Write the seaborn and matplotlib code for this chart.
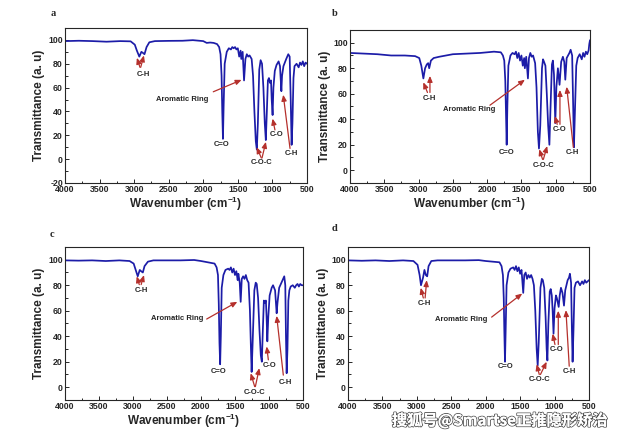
import matplotlib
matplotlib.use('Agg')
import matplotlib.pyplot as plt
import matplotlib.patheffects as pe
from matplotlib.ticker import MultipleLocator
import seaborn as sns

# ---- spectra (wavenumber cm-1, transmittance) ----
wn_a = [4000, 3800, 3600, 3400, 3200, 3050, 2990, 2960, 2925, 2895, 2870, 2850, 2820, 2780, 2700,
        2500, 2300, 2150, 2000, 1950, 1900, 1850, 1800, 1770, 1750, 1735, 1725, 1715, 1705, 1690,
        1660, 1630, 1600, 1580, 1560, 1540, 1520, 1500, 1480, 1460, 1450, 1430, 1410, 1390, 1370,
        1350, 1330, 1300, 1280, 1260, 1240, 1225, 1210, 1190, 1170, 1150, 1130, 1110, 1095, 1080,
        1065, 1050, 1035, 1020, 1010, 997, 985, 965, 940, 910, 890, 870, 860, 840, 800,
        770, 750, 735, 722, 710, 695, 680, 650, 620, 600, 580, 560, 540, 520, 500]
t_a = [99, 99.3, 99, 98.5, 99, 98.8, 96, 91, 86, 90, 89, 88, 94, 98, 99,
       99.2, 99.3, 99.8, 99, 97.5, 97.8, 97.5, 96.5, 94, 88, 70, 40, 17, 45, 80,
       90, 93, 92, 94, 93, 94, 92, 93, 86, 91, 84, 90, 66, 84, 88,
       86, 87, 84, 70, 40, 15, 8, 30, 75, 83, 80, 60, 30, 16, 40,
       66, 68, 64, 66, 50, 37, 60, 74, 79, 82, 78, 57, 70, 78, 84,
       88, 86, 50, 12, 30, 68, 78, 80, 77, 81, 79, 82, 78, 81, 80]

wn_b = [4000, 3800, 3600, 3400, 3200, 3050, 2990, 2960, 2930, 2905, 2880, 2860, 2845, 2820, 2780,
        2700, 2500, 2300, 2100, 2000, 1900, 1800, 1770, 1750, 1735, 1725, 1715, 1705, 1690, 1660,
        1630, 1600, 1580, 1560, 1540, 1520, 1500, 1480, 1460, 1450, 1430, 1405, 1390, 1370, 1350,
        1330, 1300, 1280, 1260, 1244, 1225, 1200, 1185, 1170, 1150, 1130, 1110, 1092, 1075, 1055,
        1041, 1025, 1006, 990, 968, 944, 920, 895, 875, 860, 840, 800, 782, 760, 745,
        734, 720, 700, 680, 650, 620, 600, 580, 560, 540, 520, 510, 500]
t_b = [92, 91.5, 91, 90, 90, 89.5, 88, 82, 72, 80, 83, 84, 80, 86, 88,
       89, 91, 91.5, 92, 92.5, 93, 92.5, 90, 86, 70, 45, 20, 50, 82, 90,
       92, 91, 93, 88, 92, 86, 90, 82, 88, 80, 89, 72, 88, 92, 89,
       90, 84, 65, 30, 17, 35, 80, 87, 85, 82, 60, 35, 20, 50, 83,
       86, 75, 37, 65, 80, 67, 85, 89, 85, 71, 88, 92, 94.5, 90, 50,
       18, 45, 82, 88, 91, 87, 92, 89, 93, 91, 94, 99, 102]

wn_c = [4000, 3800, 3600, 3400, 3200, 3050, 2990, 2960, 2930, 2900, 2880, 2855, 2830, 2780, 2700,
        2500, 2300, 2100, 2000, 1900, 1850, 1800, 1770, 1750, 1738, 1728, 1718, 1708, 1695, 1670,
        1640, 1600, 1580, 1560, 1540, 1520, 1500, 1480, 1460, 1450, 1430, 1416, 1400, 1380, 1360,
        1340, 1320, 1300, 1280, 1265, 1255, 1240, 1215, 1195, 1180, 1160, 1140, 1120, 1105, 1090,
        1075, 1060, 1045, 1035, 1024, 1010, 990, 960, 940, 910, 887, 875, 850, 800, 775,
        760, 750, 740, 728, 715, 700, 680, 650, 620, 600, 580, 560, 540, 520, 500]
t_c = [99.5, 99.3, 99.5, 99, 99.5, 99, 97, 92, 87, 92, 91, 90, 95, 98.5, 99.5,
       99.5, 99.5, 99.8, 99, 98, 97.5, 97, 94, 88, 65, 35, 18, 40, 78, 88,
       92, 93, 92, 94, 90, 93, 88, 91, 84, 89, 82, 67, 85, 87, 85,
       88, 84, 82, 60, 30, 12, 35, 76, 82, 81, 70, 45, 25, 20, 45,
       68, 66, 68, 55, 36, 55, 72, 78, 80, 76, 58, 66, 78, 84, 87,
       80, 40, 11, 30, 68, 76, 79, 80, 78, 80, 81, 79, 81, 80, 80]

wn_d = [4000, 3800, 3600, 3400, 3200, 3050, 2990, 2960, 2940, 2910, 2890, 2870, 2850, 2830, 2790,
        2700, 2500, 2300, 2100, 2000, 1900, 1800, 1770, 1750, 1738, 1730, 1720, 1710, 1697, 1670,
        1640, 1600, 1580, 1560, 1540, 1520, 1500, 1480, 1470, 1455, 1440, 1420, 1400, 1380, 1360,
        1340, 1320, 1300, 1280, 1260, 1245, 1230, 1205, 1185, 1170, 1150, 1130, 1115, 1104, 1090,
        1070, 1056, 1040, 1028, 1015, 1000, 980, 967, 940, 925, 907, 885, 863, 845, 810,
        790, 777, 760, 748, 738, 725, 710, 690, 660, 630, 600, 580, 560, 540, 520, 500]
t_d = [99.5, 99.2, 99.5, 99, 99.5, 99, 96, 88, 80, 86, 92, 88, 87, 95, 99,
       99.5, 99.5, 99.5, 99.7, 99, 98.5, 98, 95, 88, 70, 45, 20, 45, 80, 90,
       93, 94, 92, 95, 91, 94, 89, 92, 85, 74, 88, 90, 85, 88, 86,
       88, 85, 80, 60, 30, 17, 35, 78, 85, 84, 78, 55, 30, 21, 50,
       75, 77, 72, 60, 42, 62, 72, 70, 63, 72, 78, 74, 64, 76, 84,
       86, 89, 82, 45, 20, 45, 78, 82, 83, 80, 83, 81, 84, 82, 83, 84]

panel_names = ['a', 'b', 'c', 'd']
x_ticks = [4000, 3500, 3000, 2500, 2000, 1500, 1000, 500]

# annotation layout: (label, text pos, [(tail, tip), ...])
notes = {
    'a': [('C-H', (2872, 71), [((2915, 77), (2960, 85)), ((2905, 77), (2858, 87))]),
          ('Aromatic Ring', (2298, 50), [((1855, 56.5), (1445, 66.5))]),
          ('C=O', (1740, 12.5), []),
          ('C-O-C', (1156, -3), [((1160, 1), (1228, 10)), ((1150, 1), (1094, 14.5))]),
          ('C-O', (940, 21), [((963, 24.5), (997, 34))]),
          ('C-H', (722, 5), [((745, 9), (843, 54))])],
    'b': [('C-H', (2843, 56), [((2870, 61), (2931, 69)), ((2834, 61), (2834, 74))]),
          ('Aromatic Ring', (2260, 47.5), [((1959, 51), (1449, 71))]),
          ('C=O', (1715, 14), []),
          ('C-O-C', (1181, 4), [((1191, 8.5), (1240, 16.5)), ((1180, 8.5), (1124, 19))]),
          ('C-O', (949, 32), [((978, 36), (1012, 42.5)), ((938, 36), (938, 63))]),
          ('C-H', (753, 14), [((743, 18), (840, 65.5))])],
    'c': [('C-H', (2872, 76), [((2907, 80.5), (2945, 87)), ((2880, 80.5), (2838, 88))]),
          ('Aromatic Ring', (2348, 54), [((1916, 53.5), (1465, 67))]),
          ('C=O', (1745, 12), []),
          ('C-O-C', (1205, -4), [((1210, 0.5), (1269, 11)), ((1200, 0.5), (1142, 15))]),
          ('C-O', (985, 17), [((1009, 21.5), (1034, 32))]),
          ('C-H', (764, 4), [((789, 9.5), (887, 56))])],
    'd': [('C-H', (2891, 66), [((2906, 70), (2944, 78)), ((2880, 70), (2857, 84))]),
          ('Aromatic Ring', (2349, 53.5), [((1914, 55), (1469, 73.5))]),
          ('C=O', (1706, 16.5), []),
          ('C-O-C', (1212, 6), [((1222, 10), (1260, 18)), ((1205, 10), (1115, 20))]),
          ('C-O', (970, 29.5), [((994, 33.5), (1028, 42)), ((946, 33.5), (946, 60))]),
          ('C-H', (777, 12.5), [((787, 16.5), (835, 60.5))])],
}

sns.set_style('ticks')
plt.rcParams['font.family'] = ['Liberation Sans', 'DejaVu Sans']
plt.rcParams['font.weight'] = 'bold'
plt.rcParams['axes.unicode_minus'] = False
plt.rcParams['mathtext.fontset'] = 'custom'
plt.rcParams['mathtext.bf'] = 'Liberation Sans:bold'

fig = plt.figure(figsize=(6.23, 4.36), dpi=100)
rects = {'a': [0.1043, 0.5803, 0.3884, 0.3555],
         'b': [0.5618, 0.5803, 0.3852, 0.3509],
         'c': [0.1043, 0.0826, 0.3820, 0.3509],
         'd': [0.5586, 0.0826, 0.3868, 0.3509]}
letter_pos = {'a': (0.085, 0.97), 'b': (0.537, 0.97), 'c': (0.083, 0.463), 'd': (0.537, 0.475)}
data = {'a': (wn_a, t_a), 'b': (wn_b, t_b), 'c': (wn_c, t_c), 'd': (wn_d, t_d)}

line_color = '#1c1ca8'
arrow_color = '#b5302c'

for name in panel_names:
    ax = fig.add_axes(rects[name])
    wn, t = data[name]
    sns.lineplot(x=wn, y=t, ax=ax, color=line_color, lw=1.25, sort=False, estimator=None)
    ax.set_xlim(4000, 500)
    if name == 'a':
        ax.set_ylim(-20, 110)
        ax.set_yticks([-20, 0, 20, 40, 60, 80, 100])
    else:
        ax.set_ylim(-10, 110)
        ax.set_yticks([0, 20, 40, 60, 80, 100])
    ax.set_xticks(x_ticks)
    ax.xaxis.set_minor_locator(MultipleLocator(250))
    ax.yaxis.set_minor_locator(MultipleLocator(10))
    ax.tick_params(which='both', direction='in', labelsize=6.3, width=0.7, pad=1.5)
    ax.tick_params(which='major', length=3)
    ax.tick_params(which='minor', length=1.8)
    for lab in ax.get_xticklabels() + ax.get_yticklabels():
        lab.set_fontweight('bold')
    for sp in ax.spines.values():
        sp.set_linewidth(0.8)
    ax.set_ylabel('Transmittance (a. u)', fontsize=8.5, fontweight='bold', labelpad=2)
    if name != 'd':
        ax.set_xlabel(r'Wavenumber (cm$^{\mathbf{-1}}$)', fontsize=8.5, fontweight='bold', labelpad=0.5)

    for label, (tx, ty), arrows in notes[name]:
        ax.text(tx, ty, label, fontsize=5.5, fontweight='bold', ha='center', va='center')
        for tail, tip in arrows:
            ax.annotate('', xy=tip, xytext=tail,
                        arrowprops=dict(arrowstyle='-|>,head_length=0.35,head_width=0.15',
                                        color=arrow_color, lw=0.9, shrinkA=0, shrinkB=0))

    fig.text(letter_pos[name][0], letter_pos[name][1], name, fontsize=7.5, fontweight='bold',
             family='Liberation Serif', ha='center', va='center')

wm = fig.text(0.802, 0.035, '搜狐号@Smartse正推隐形矫治', fontsize=11, color='white',
              family=['Noto Sans CJK SC', 'DejaVu Sans'], ha='center', va='center')
wm.set_path_effects([pe.withStroke(linewidth=1.3, foreground='#555555'), pe.Normal()])

fig.savefig('out.png', dpi=100)
